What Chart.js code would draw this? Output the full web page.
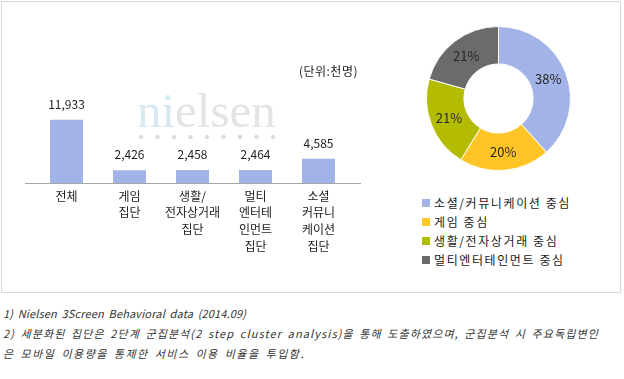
<!DOCTYPE html>
<html>
<head>
<meta charset="utf-8">
<script src="https://cdn.jsdelivr.net/npm/chart.js@4"></script>
<style>
  html, body { margin:0; padding:0; background:#fff; }
  body { width:624px; height:379px; position:relative; overflow:hidden; font-family:"Noto Sans CJK KR","Noto Sans",sans-serif; }
  #frame { position:absolute; left:1px; top:1px; width:620px; height:292px; border:1px solid #d9d9d9; box-sizing:border-box; }
  #bar { position:absolute; left:0; top:0; }
  #donut { position:absolute; left:426px; top:26px; }
  #unit { position:absolute; right:266px; top:62px; font-size:12px; color:#222; letter-spacing:0.5px; }
  #legend { position:absolute; left:422px; top:193px; font-size:12px; color:#1a1a1a; }
  .li { height:19px; display:flex; align-items:center; white-space:nowrap; letter-spacing:1.6px; }
  .sw { width:8px; height:8px; margin-right:4px; flex:none; }
  #notes { position:absolute; left:3px; top:303px; font-size:11px; font-style:italic; color:#333; line-height:20px; white-space:nowrap; word-spacing:2px; }
  #notes .l1 { letter-spacing:0.15px; }
  #notes .l2 { letter-spacing:1.1px; }
  #notes .l3 { letter-spacing:1.5px; }
</style>
</head>
<body>
<div id="frame"></div>
<canvas id="bar" width="400" height="290"></canvas>
<canvas id="donut" width="145" height="145"></canvas>
<div id="unit">(단위:천명)</div>
<div id="legend"></div>
<div id="notes">
  <div class="l1">1) Nielsen 3Screen Behavioral data (2014.09)</div>
  <div class="l2">2) 세분화된 집단은 2단계 군집분석(2 step cluster analysis)을 통해 도출하였으며, 군집분석 시 주요독립변인</div>
  <div class="l3">은 모바일 이용량을 통제한 서비스 이용 비율을 투입함.</div>
</div>
<script>
// ---- data ----
const barCategories = [["전체"], ["게임", "집단"], ["생활/", "전자상거래", "집단"], ["멀티", "엔터테", "인먼트", "집단"], ["소셜", "커뮤니", "케이션", "집단"]];
const barValues = [11933, 2426, 2458, 2464, 4585];
const donutLabels = ["소셜/커뮤니케이션 중심", "게임 중심", "생활/전자상거래 중심", "멀티엔터테인먼트 중심"];
const donutValues = [4585, 2426, 2458, 2464];
const donutColors = ["#a2b4e7", "#ffc425", "#b3bc00", "#6b6b6b"];
const barColor = "#a2b4e7";

const FONT = '"Noto Sans CJK KR", "Noto Sans", sans-serif';

const barPlugin = {
  id: 'barDecor',
  beforeDraw(chart) {
    const ctx = chart.ctx;
    ctx.save();
    // watermark
    ctx.font = '49px "Liberation Serif", serif';
    ctx.textBaseline = 'alphabetic';
    ctx.textAlign = 'left';
    let x = 137;
    ctx.fillStyle = '#d6e9f2';
    ctx.fillText('ni', x, 127);
    x += ctx.measureText('ni').width;
    ctx.fillStyle = '#e4e4e4';
    ctx.fillText('elsen', x, 127);
    ctx.fillStyle = '#dcdcdc';
    for (let i = 0; i < 9; i++) {
      ctx.beginPath();
      ctx.arc(141 + i * 16.5, 137, 2.2, 0, Math.PI * 2);
      ctx.fill();
    }
    ctx.restore();
  },
  afterDatasetsDraw(chart) {
    const ctx = chart.ctx;
    const ys = chart.scales.y;
    const area = chart.chartArea;
    const y0 = Math.round(ys.getPixelForValue(0)) + 0.5;
    ctx.save();
    ctx.strokeStyle = '#a6a6a6';
    ctx.lineWidth = 1;
    ctx.beginPath();
    ctx.moveTo(area.left - 10, y0);
    ctx.lineTo(area.right + 11, y0);
    ctx.stroke();
    // data labels
    ctx.font = '12px ' + FONT;
    ctx.fillStyle = '#222';
    ctx.textAlign = 'center';
    ctx.textBaseline = 'middle';
    const meta = chart.getDatasetMeta(0);
    meta.data.forEach((bar, i) => {
      ctx.fillText(barValues[i].toLocaleString('en-US'), bar.x, bar.y - 15.5);
    });
    ctx.restore();
  }
};

new Chart(document.getElementById('bar'), {
  type: 'bar',
  data: {
    labels: barCategories,
    datasets: [{ data: barValues, backgroundColor: barColor, borderWidth: 0, categoryPercentage: 1, barPercentage: 33/63 }]
  },
  options: {
    responsive: false,
    devicePixelRatio: 1,
    animation: false,
    layout: { padding: { left: 35, right: 50, top: 77, bottom: 27 } },
    plugins: { legend: { display: false }, tooltip: { enabled: false } },
    scales: {
      y: { display: false, min: 0, max: 20000 },
      x: {
        grid: { display: false, drawTicks: false },
        border: { display: false },
        ticks: { color: '#222', font: { family: FONT, size: 12, lineHeight: 1.38 }, padding: 5, maxRotation: 0, autoSkip: false },
        afterFit(axis) { axis.height = 80; }
      }
    }
  },
  plugins: [barPlugin]
});

const donutPlugin = {
  id: 'donutLabels',
  afterDatasetsDraw(chart) {
    const ctx = chart.ctx;
    const meta = chart.getDatasetMeta(0);
    const total = donutValues.reduce((a, b) => a + b, 0);
    ctx.save();
    ctx.font = '13px ' + FONT;
    ctx.fillStyle = '#262626';
    ctx.textAlign = 'center';
    ctx.textBaseline = 'middle';
    meta.data.forEach((arc, i) => {
      const p = arc.tooltipPosition();
      ctx.fillText(Math.round(donutValues[i] / total * 100) + '%', p.x, p.y);
    });
    ctx.restore();
  }
};

new Chart(document.getElementById('donut'), {
  type: 'doughnut',
  data: {
    labels: donutLabels,
    datasets: [{ data: donutValues, backgroundColor: donutColors, borderColor: '#fff', borderWidth: 1 }]
  },
  options: {
    responsive: false,
    devicePixelRatio: 1,
    animation: false,
    cutout: '48%',
    layout: { padding: 0 },
    plugins: { legend: { display: false }, tooltip: { enabled: false } }
  },
  plugins: [donutPlugin]
});

// legend
const leg = document.getElementById('legend');
donutLabels.forEach((l, i) => {
  const row = document.createElement('div');
  row.className = 'li';
  const sw = document.createElement('span');
  sw.className = 'sw';
  sw.style.background = donutColors[i];
  const t = document.createElement('span');
  t.textContent = l;
  row.appendChild(sw); row.appendChild(t);
  leg.appendChild(row);
});
</script>
</body>
</html>
